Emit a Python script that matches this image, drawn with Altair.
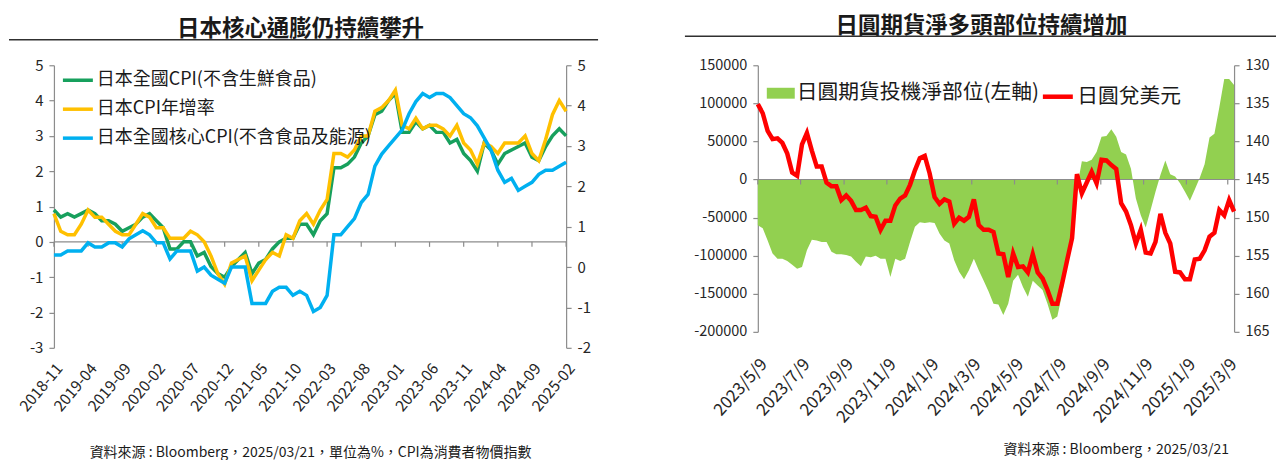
import altair as alt
import pandas as pd

FONT = "Noto Sans CJK TC"
GREEN = "#17A05D"
GOLD = "#FFC000"
SKY = "#00B0F0"
LIME = "#92D050"
RED = "#FF0000"
AXIS_GREY = "#8C8C8C"
TEXT = "#262626"

# ---- left panel: Japan CPI, y/y %
months = pd.date_range("2018-11-01", periods=76, freq="MS").strftime("%Y-%m").tolist()
month_ticks = months[::5]

core_cpi = [0.9, 0.7, 0.8, 0.7, 0.8, 0.9, 0.8, 0.6, 0.6, 0.5,
            0.3, 0.4, 0.5, 0.7, 0.8, 0.6, 0.4, -0.2, -0.2, 0.0,
            0.0, -0.4, -0.3, -0.7, -0.9, -1.0, -0.7, -0.5, -0.3, -0.9,
            -0.6, -0.5, -0.2, 0.0, 0.1, 0.1, 0.5, 0.5, 0.2, 0.6,
            0.8, 2.1, 2.1, 2.2, 2.4, 2.8, 3.0, 3.6, 3.7, 4.0,
            4.2, 3.1, 3.1, 3.4, 3.2, 3.3, 3.1, 3.1, 2.8, 2.9,
            2.5, 2.3, 2.0, 2.8, 2.6, 2.2, 2.5, 2.6, 2.7, 2.8,
            2.4, 2.3, 2.7, 3.0, 3.2, 3.0]
headline_cpi = [0.8, 0.3, 0.2, 0.2, 0.5, 0.9, 0.7, 0.7, 0.5, 0.3,
                0.2, 0.2, 0.5, 0.8, 0.7, 0.4, 0.4, 0.1, 0.1, 0.1,
                0.3, 0.2, 0.0, -0.4, -0.9, -1.2, -0.6, -0.5, -0.4, -1.1,
                -0.8, -0.5, -0.3, -0.4, 0.2, 0.1, 0.6, 0.8, 0.5, 0.9,
                1.2, 2.5, 2.5, 2.4, 2.6, 3.0, 3.0, 3.7, 3.8, 4.0,
                4.3, 3.3, 3.2, 3.5, 3.2, 3.3, 3.3, 3.2, 3.0, 3.3,
                2.8, 2.6, 2.2, 2.8, 2.7, 2.5, 2.8, 2.8, 2.8, 3.0,
                2.5, 2.3, 2.9, 3.6, 4.0, 3.7]
core_core_cpi = [0.3, 0.3, 0.4, 0.4, 0.4, 0.6, 0.5, 0.5, 0.6, 0.6,
                 0.5, 0.7, 0.8, 0.9, 0.8, 0.6, 0.6, 0.2, 0.4, 0.4,
                 0.4, -0.1, 0.0, -0.2, -0.3, -0.4, 0.0, 0.0, 0.0, -0.9,
                 -0.9, -0.9, -0.6, -0.5, -0.5, -0.7, -0.6, -0.7, -1.1, -1.0,
                 -0.7, 0.8, 0.8, 1.0, 1.2, 1.6, 1.8, 2.5, 2.8, 3.0,
                 3.2, 3.4, 3.8, 4.1, 4.3, 4.2, 4.3, 4.3, 4.2, 4.0,
                 3.8, 3.7, 3.5, 3.2, 2.9, 2.4, 2.1, 2.2, 1.9, 2.0,
                 2.1, 2.3, 2.4, 2.4, 2.5, 2.6]
cpi_names = ["日本全國CPI(不含生鮮食品)", "日本CPI年增率", "日本全國核心CPI(不含食品及能源)"]

# ---- right panel: yen futures speculative net position vs USDJPY (weekly)
weeks = pd.date_range("2023-05-09", periods=98, freq="7D").strftime("%Y-%m-%d").tolist()
week_ticks = ["2023-05-09", "2023-07-09", "2023-09-09", "2023-11-09", "2024-01-09", "2024-03-09",
              "2024-05-09", "2024-07-09", "2024-09-09", "2024-11-09", "2025-01-09", "2025-03-09"]
jpy_net_position = [-60000, -64000, -80000, -97000, -104000, -104000, -107000, -112000, -117000, -115000,
                    -93000, -79000, -80000, -82000, -82000, -95000, -98000, -98000, -99000, -101000,
                    -108000, -114000, -101000, -102000, -100000, -104000, -104000, -128000, -104000, -107000,
                    -104000, -82000, -62000, -56000, -57000, -56000, -57000, -71000, -80000, -84000,
                    -106000, -121000, -131000, -119000, -104000, -119000, -133000, -147000, -163000, -164000,
                    -178000, -163000, -133000, -125000, -141000, -154000, -133000, -139000, -145000, -163000,
                    -184000, -180000, -150000, -110000, -73000, -11000, 24000, 23000, 26000, 36000,
                    56000, 57000, 66000, 56000, 36000, 33000, 14000, -25000, -47000, -63000,
                    -40000, -16000, 6000, 25000, 7000, 4000, -5000, -16000, -28000, -13000,
                    2000, 20000, 55000, 60000, 95000, 132000, 132000, 124000]
usdjpy = [135.1, 136.3, 138.6, 139.7, 139.6, 140.2, 141.6, 144.1, 144.5, 140.4,
          138.9, 141.2, 143.3, 143.3, 145.4, 145.9, 145.9, 147.7, 147.1, 147.8,
          149.0, 149.0, 148.7, 149.8, 149.9, 151.6, 150.4, 150.4, 148.4, 147.5,
          147.1, 145.7, 143.8, 142.2, 141.9, 144.2, 147.3, 148.2, 147.6, 147.9,
          150.8, 150.0, 150.4, 149.9, 147.6, 151.0, 151.6, 151.6, 151.9, 154.7,
          154.8, 157.8, 154.7, 156.5, 156.4, 157.2, 154.8, 157.2, 158.0, 159.5,
          161.3, 161.3, 158.6, 155.6, 152.7, 144.3, 146.8, 145.4, 144.0, 145.5,
          142.4, 142.5, 143.1, 143.6, 148.1, 149.2, 151.0, 153.4, 151.6, 154.6,
          154.7, 153.2, 149.5, 152.0, 153.4, 157.1, 157.2, 158.1, 158.1, 155.5,
          155.4, 154.3, 152.5, 152.0, 149.0, 149.7, 147.7, 149.2]
fx_names = ["日圓期貨投機淨部位(左軸)", "日圓兌美元"]

LW, LH = 513, 283
RW, RH = 477, 267
TITLE_SIZE = 22.5


def _dt(s):
    return alt.DateTime(year=int(s[:4]), month=int(s[5:7]), date=int(s[8:]), utc=True)


def _text(txt, x, y, size, align="center", bold=False):
    return (
        alt.Chart(pd.DataFrame({"t": [txt]}))
        .mark_text(font=FONT, fontSize=size, fontWeight="bold" if bold else "normal",
                   align=align, baseline="middle", color="#1a1a1a")
        .encode(x=alt.value(x), y=alt.value(y), text="t:N")
    )


def _underline(x, x2, y):
    return (
        alt.Chart(pd.DataFrame({"a": [0]}))
        .mark_rule(color="#303030", strokeWidth=1.5)
        .encode(x=alt.value(x), x2=alt.value(x2), y=alt.value(y))
    )


def left_panel():
    zero_px = LH * 5 / 8
    x = alt.X("month:O", scale=alt.Scale(type="point", padding=0),
              axis=alt.Axis(values=month_ticks, title=None, labelAngle=-50, labelAlign="right",
                            labelBaseline="top", labelPadding=13, labelOverlap=False,
                            labelFontSize=15.5, domain=False, ticks=False))
    color = alt.Color("series:N", scale=alt.Scale(domain=cpi_names, range=[GREEN, GOLD, SKY]),
                      legend=alt.Legend(title=None, orient="none", legendX=7, legendY=-2,
                                        symbolType="stroke", symbolSize=900, symbolStrokeWidth=3.5,
                                        labelFontSize=18, rowPadding=3, labelOffset=2, padding=0,
                                        labelLimit=400))
    y_scale = alt.Scale(domain=[-3, 5], nice=False, zero=False)
    y_axis = alt.Axis(values=list(range(-3, 6)), labelExpr="'' + datum.value", title=None,
                      tickSize=5, labelPadding=6)

    def series(name, values):
        return pd.DataFrame({"month": months, "series": name, "value": values})

    zero = (
        alt.Chart(pd.DataFrame({"z": [0]}))
        .mark_rule(color=AXIS_GREY, strokeWidth=1.2)
        .encode(y=alt.Y("z:Q", scale=y_scale, axis=y_axis))
    )
    ticks = (
        alt.Chart(pd.DataFrame({"month": month_ticks, "z": 0}))
        .mark_rule(color=AXIS_GREY, strokeWidth=1.2)
        .encode(x=x, y=alt.Y("z:Q", scale=y_scale, axis=y_axis), y2=alt.value(zero_px + 5))
    )
    green = (
        alt.Chart(series(cpi_names[0], core_cpi))
        .mark_line(strokeWidth=3.5)
        .encode(x=x, y=alt.Y("value:Q", scale=y_scale, axis=y_axis), color=color)
    )
    gold = (
        alt.Chart(series(cpi_names[1], headline_cpi))
        .mark_line(strokeWidth=3.5)
        .encode(x=x, y=alt.Y("value:Q", scale=y_scale, axis=y_axis), color=color)
    )
    blue = (
        alt.Chart(series(cpi_names[2], core_core_cpi))
        .mark_line(strokeWidth=3.5)
        .encode(x=x,
                y=alt.Y("value:Q", scale=alt.Scale(domain=[-2, 5], nice=False, zero=False),
                        axis=alt.Axis(orient="right", values=list(range(-2, 6)),
                                      labelExpr="'' + datum.value", title=None,
                                      tickSize=5, labelPadding=6)),
                color=color)
    )
    inner = alt.layer(zero, ticks, green, gold)
    deco = [
        _text("日本核心通膨仍持續攀升", 247, -36, TITLE_SIZE, bold=True),
        _underline(-45, 545, -25.5),
        _text("資料來源 : Bloomberg，2025/03/21，單位為%，CPI為消費者物價指數", 257, 388, 14),
    ]
    return (
        alt.layer(inner, blue, *deco)
        .resolve_scale(y="independent")
        .properties(width=LW, height=LH)
    )


def right_panel():
    zero_px = RH * 150000 / 350000
    x = alt.X("week:T",
              scale=alt.Scale(type="utc", domain=[_dt(weeks[0]), _dt(weeks[-1])], nice=False),
              axis=alt.Axis(values=[_dt(d) for d in week_ticks],
                            labelExpr="utcyear(datum.value) + '/' + (utcmonth(datum.value) + 1) + '/' + utcdate(datum.value)",
                            title=None, labelAngle=-48, labelAlign="right",
                            labelBaseline="top", labelPadding=24, labelOverlap=False,
                            labelFontSize=17, domain=False, ticks=False))
    y_scale = alt.Scale(domain=[-200000, 150000], nice=False, zero=False)
    y_axis = alt.Axis(values=list(range(-200000, 150001, 50000)), labelExpr="'' + datum.value",
                      title=None, tickSize=5, labelPadding=6, labelFontSize=14.5)

    pos = pd.DataFrame({"week": weeks, "net": jpy_net_position, "label": fx_names[0]})
    fx = pd.DataFrame({"week": weeks, "rate": usdjpy, "label": fx_names[1]})

    area = (
        alt.Chart(pos)
        .mark_area(opacity=1)
        .encode(
            x=x,
            y=alt.Y("net:Q", scale=y_scale, axis=y_axis),
            y2=alt.datum(0),
            fill=alt.Fill("label:N", scale=alt.Scale(domain=[fx_names[0]], range=[LIME]),
                          legend=alt.Legend(title=None, orient="none", legendX=9, legendY=14,
                                            symbolType="M-1,-0.39H1V0.39H-1Z", symbolSize=784,
                                            symbolStrokeWidth=0, labelFontSize=20.8, labelOffset=2,
                                            padding=0, labelLimit=400)),
        )
    )
    zero = (
        alt.Chart(pd.DataFrame({"z": [0]}))
        .mark_rule(color=AXIS_GREY, strokeWidth=1.2)
        .encode(y=alt.Y("z:Q", scale=y_scale, axis=y_axis))
    )
    ticks = (
        alt.Chart(pd.DataFrame({"week": week_ticks, "z": 0}))
        .mark_rule(color=AXIS_GREY, strokeWidth=1.2)
        .encode(x=x, y=alt.Y("z:Q", scale=y_scale, axis=y_axis), y2=alt.value(zero_px + 5))
    )
    line = (
        alt.Chart(fx)
        .mark_line(strokeWidth=4.5)
        .encode(
            x=x,
            y=alt.Y("rate:Q", scale=alt.Scale(domain=[130, 165], reverse=True, nice=False, zero=False),
                    axis=alt.Axis(orient="right", values=list(range(130, 166, 5)), title=None,
                                  tickSize=5, labelPadding=6, labelFontSize=14.5)),
            stroke=alt.Stroke("label:N", scale=alt.Scale(domain=[fx_names[1]], range=[RED]),
                              legend=alt.Legend(title=None, orient="none", legendX=283, legendY=14,
                                                symbolType="stroke", symbolSize=900,
                                                symbolStrokeWidth=4.5, labelFontSize=20.8,
                                                labelOffset=2, padding=0, labelLimit=400)),
        )
    )
    inner = alt.layer(area, zero, ticks)
    deco = [
        _text("日圓期貨淨多頭部位持續增加", 224, -39, TITLE_SIZE, bold=True),
        _underline(-73, 519, -29),
        _text("資料來源 : Bloomberg，2025/03/21", 472, 385, 14, align="right"),
    ]
    return (
        alt.layer(inner, line, *deco)
        .resolve_scale(y="independent")
        .properties(width=RW, height=RH)
    )


chart = (
    alt.hconcat(left_panel(), right_panel(), spacing=85,
                padding={"top": 7, "left": 0, "right": 0, "bottom": 0})
    .resolve_legend(color="independent", fill="independent", stroke="independent")
    .configure_view(stroke=None)
    .configure_axis(labelFont=FONT, labelColor=TEXT, labelFontSize=15, domainColor=AXIS_GREY,
                    tickColor=AXIS_GREY, domainWidth=1.2, tickWidth=1.2, grid=False)
    .configure_legend(labelFont=FONT, labelColor="#1a1a1a")
)

chart.save("out.html", embed_options={"renderer": "svg", "actions": False})
